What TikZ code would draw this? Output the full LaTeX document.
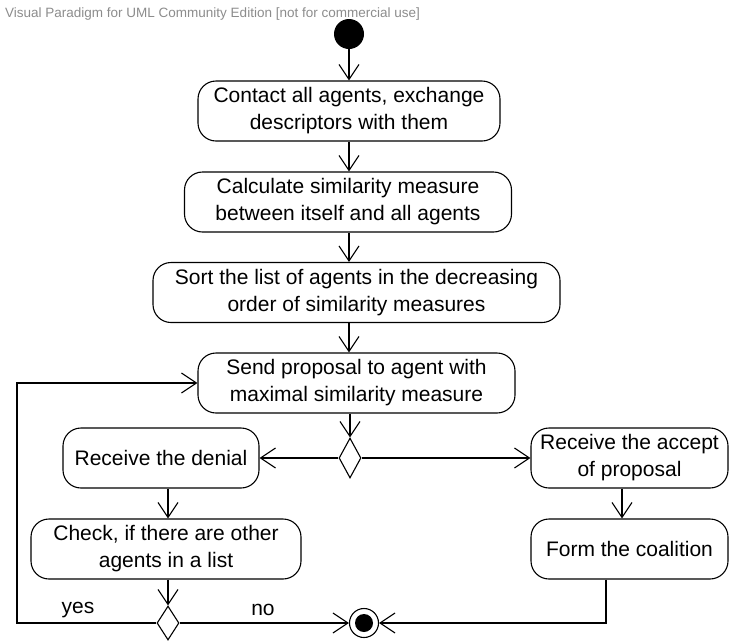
\documentclass[tikz,border=0pt]{standalone}
\usepackage{fontspec}
\setmainfont{Liberation Sans}
\usetikzlibrary{arrows.meta,shapes.geometric}
\definecolor{vpgray}{RGB}{140,140,140}

\begin{document}
\begin{tikzpicture}[x=1pt,y=1pt,yscale=-1,xscale=1,
	action/.style={draw,line width=1.1pt,rounded corners=18pt,align=center,minimum height=60pt,inner sep=0pt,font=\fontsize{21}{27}\selectfont},
	branch/.style={draw,diamond,line width=1.1pt,fill=white,minimum width=22pt,minimum height=40pt,inner sep=0pt},
	flow/.style={line width=1.1pt,-{Straight Barb[length=15pt,width=20pt]}},
	wire/.style={line width=1.1pt},
	guardtext/.style={font=\fontsize{21}{27}\selectfont}]
	\useasboundingbox (0,0) rectangle (734,641);
	
	% Text Node
	\node[anchor=base west,text=vpgray,font=\fontsize{13.5}{16}\selectfont,inner sep=0pt] (title) at (5,17) {Visual Paradigm for UML Community Edition [not for commercial use]};
	% Initial Node
	\node[circle,fill,minimum size=30pt,inner sep=0pt] (start) at (349,34) {};
	% Action
	\node[action,minimum width=302pt] (contact) at (349,111) {Contact all agents, exchange\\descriptors with them};
	% Action
	\node[action,minimum width=327pt] (calc) at (348,202) {Calculate similarity measure\\between itself and all agents};
	% Action
	\node[action,minimum width=407pt] (sort) at (356.5,292.5) {Sort the list of agents in the decreasing\\order of similarity measures};
	% Action
	\node[action,minimum width=317pt] (send) at (356.5,383) {Send proposal to agent with\\maximal similarity measure};
	% Decision Node
	\node[branch] (dec1) at (350,458) {};
	% Action
	\node[action,minimum width=196pt] (denial) at (161,458) {Receive the denial};
	% Action
	\node[action,minimum width=197pt] (accept) at (629.5,458) {Receive the accept\\of proposal};
	% Action
	\node[action,minimum width=270pt] (check) at (166,549) {Check, if there are other\\agents in a list};
	% Action
	\node[action,minimum width=197pt] (form) at (629.5,549) {Form the coalition};
	% Decision Node
	\node[branch,minimum height=34pt] (dec2) at (168,623) {};
	% Final Node
	\node[circle,draw,line width=1.1pt,fill=white,minimum size=29pt,inner sep=0pt] (final) at (364,623) {};
	\node[circle,fill,minimum size=18pt,inner sep=0pt] (finaldot) at (final) {};
	% Text Node
	\node[guardtext] (yes) at (78,610) {yes};
	% Text Node
	\node[guardtext] (no) at (263,610) {no};
	\coordinate (back) at (17,383);
	
	% Connection
	\draw[flow] (start) -- (start |- contact.north);
	% Connection
	\draw[flow] (start |- contact.south) -- (start |- calc.north);
	% Connection
	\draw[flow] (start |- calc.south) -- (start |- sort.north);
	% Connection
	\draw[flow] (start |- sort.south) -- (start |- send.north);
	% Connection
	\draw[flow] (dec1 |- send.south) -- (dec1.north);
	% Connection
	\draw[flow] (dec1.west) -- (denial.east);
	% Connection
	\draw[flow] (dec1.east) -- (accept.west);
	% Connection
	\draw[flow] (dec2 |- denial.south) -- (dec2 |- check.north);
	% Connection
	\draw[flow] ([xshift=-7.5pt]accept.south) -- ([xshift=-7.5pt]form.north);
	% Connection
	\draw[flow] (dec2 |- check.south) -- (dec2.north);
	% Connection
	\draw[flow] (dec2.west) -| (back) -- (send.west);
	% Connection
	\draw[flow] (dec2.east) -- (final.west);
	% Connection
	\draw[flow] ([xshift=-23.5pt]form.south) |- (final.east);
	
\end{tikzpicture}
\end{document}
